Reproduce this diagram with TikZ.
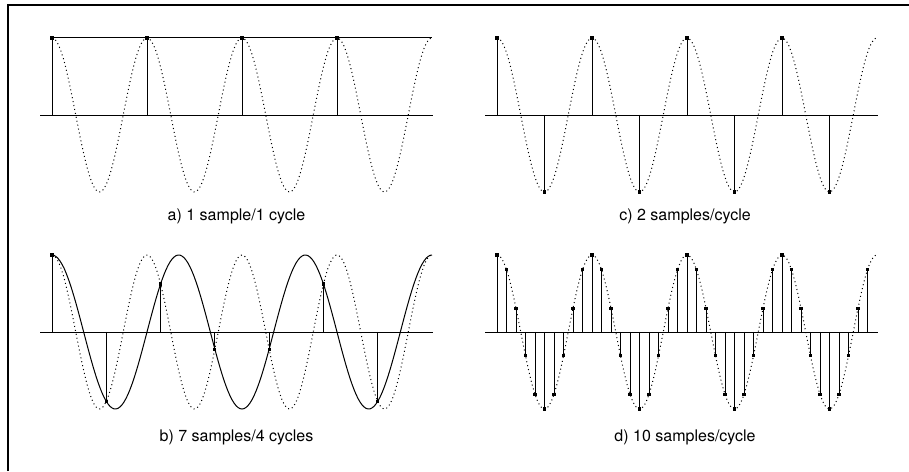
\documentclass[tikz,border=0pt]{standalone}
\usepackage{fontspec}
\setmainfont{TeX Gyre Heros}
\begin{document}
\begin{tikzpicture}[x=1pt,y=1pt,
    smp/.style={fill,inner sep=0pt,minimum size=3.2pt},
    stem/.style={line width=0.9pt},
    axis/.style={line width=0.9pt},
    orig/.style={line width=1pt,dash pattern=on 1pt off 3pt},
    alias/.style={line width=1pt},
    lbl/.style={font=\fontsize{16}{19}\selectfont,anchor=base}]
    \useasboundingbox (0,0) rectangle (909,471);
    \draw[line width=1.2pt] (8,0) -- (8,466) -- (909,466);
    \begin{scope}[shift={(52,356)}]
      \draw[axis] (-12,0) -- (381,0);
      \draw[orig] plot[domain=0:1440,samples=191] ({\x/3.78947},{77*cos(\x)});
      \draw[alias] (0,77) -- (380,77);
      \foreach \k in {0,...,3} {
        \node[smp] (a\k) at (\k*95,77) {};
        \draw[stem] (\k*95,0) -- (a\k.center);
      }
      \node[lbl] (la) at (184.5,-106) {a) 1 sample/1 cycle};
    \end{scope}
    \begin{scope}[shift={(52,139)}]
      \draw[axis] (-12,0) -- (381,0);
      \draw[orig] plot[domain=0:1440,samples=191] ({\x/3.78947},{77*cos(\x)});
      \draw[alias] plot[domain=0:1440,samples=191] ({\x/3.78947},{77*cos(0.75*\x)});
      \foreach \k in {0,...,6} {
        \node[smp] (b\k) at ({\k*380/7},{77*cos(360*4*\k/7)}) {};
        \draw[stem] ({\k*380/7},0) -- (b\k.center);
      }
      \node[lbl] (lb) at (184.5,-109) {b) 7 samples/4 cycles};
    \end{scope}
    \begin{scope}[shift={(497,356)}]
      \draw[axis] (-12,0) -- (381,0);
      \draw[orig] plot[domain=0:1440,samples=191] ({\x/3.78947},{77*cos(\x)});
      \foreach \k in {0,...,7} {
        \node[smp] (c\k) at (\k*47.5,{77*cos(180*\k)}) {};
        \draw[stem] (\k*47.5,0) -- (c\k.center);
      }
      \node[lbl] (lc) at (188,-106) {c) 2 samples/cycle};
    \end{scope}
    \begin{scope}[shift={(497,139)}]
      \draw[axis] (-12,0) -- (381,0);
      \draw[orig] plot[domain=0:1440,samples=191] ({\x/3.78947},{77*cos(\x)});
      \foreach \k in {0,...,39} {
        \node[smp] (d\k) at (\k*9.5,{77*cos(36*\k)}) {};
        \draw[stem] (\k*9.5,0) -- (d\k.center);
      }
      \node[lbl] (ld) at (188,-109) {d) 10 samples/cycle};
    \end{scope}
\end{tikzpicture}
\end{document}
